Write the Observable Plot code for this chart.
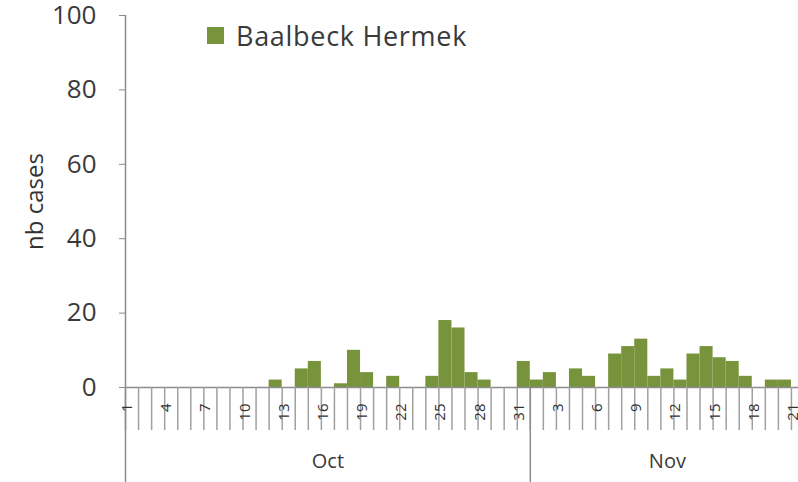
<!DOCTYPE html>
<html><head><meta charset="utf-8">
<script src="https://cdn.jsdelivr.net/npm/d3@7"></script>
<script src="https://cdn.jsdelivr.net/npm/@observablehq/plot@0.6"></script>
<style>
html,body{margin:0;padding:0;overflow:hidden;background:#fff;width:798px;height:482px}
#wrap{position:relative;width:798px;height:482px;overflow:hidden}
#wrap svg{position:absolute;left:0;top:0;max-width:none !important}
#legend{position:absolute;left:207px;top:17px;font:27px "Open Sans",sans-serif;letter-spacing:0.7px;color:#3a3a3a;display:flex;align-items:center;z-index:2}
#legend .sw{display:inline-block;width:17px;height:17px;background:#77933C;margin-right:12px}
</style></head><body>
<div id="wrap"><div id="legend"><span class="sw"></span><span>Baalbeck Hermek</span></div></div>
<script>
const months = ["Oct", "Nov"];
const octCases = [0,0,0,0,0,0,0,0,0,0,0,2,0,5,7,0,1,10,4,0,3,0,0,3,18,16,4,2,0,0,7];
const novCases = [2,4,0,5,3,0,9,11,13,3,5,2,9,11,8,7,3,0,2,2,0];
const yTicks = [0, 20, 40, 60, 80, 100];
const tickLabels = ["1","4","7","10","13","16","19","22","25","28","31","3","6","9","12","15","18","21"];

const data = [];
[octCases, novCases].forEach((vals, mi) => {
  vals.forEach((v, d) => data.push({i: data.length, day: d + 1, month: months[mi], cases: v}));
});
const n = data.length;
const tickData = tickLabels.map((t, k) => ({i: k * 3, label: t}));
const boundaries = d3.range(n + 1);
const monthEdges = [0, octCases.length, n];
const monthLabels = months.map((m, k) => ({month: m, mid: (monthEdges[k] + monthEdges[k + 1]) / 2}));

const chart = Plot.plot({
  width: 806, height: 482,
  marginLeft: 125, marginRight: 2, marginTop: 15, marginBottom: 95,
  x: {domain: [0, n], axis: null},
  y: {domain: [0, 100], axis: null},
  style: {fontFamily: "'Open Sans', sans-serif", background: "#fff", color: "#333"},
  marks: [
    Plot.rectY(data, {x1: "i", x2: d => d.i + 1, y: "cases", fill: "#77933C"}),
    Plot.ruleY([0], {stroke: "#8c8c8c", strokeWidth: 1.5}),
    Plot.ruleX([0], {stroke: "#8c8c8c", strokeWidth: 1.5}),
    Plot.axisY({ticks: yTicks, tickSize: 6, tickPadding: 23, fontSize: 26, label: null, stroke: "#8c8c8c", fill: "#3a3a3a", letterSpacing: 1}),
    Plot.axisX({ticks: boundaries, tickSize: 43, tickFormat: () => "", stroke: "#a0a0a0", strokeWidth: 1.5, label: null}),
    Plot.axisX({ticks: monthEdges, tickSize: 95, tickFormat: () => "", stroke: "#8c8c8c", strokeWidth: 1.5, label: null}),
    Plot.text(tickData, {x: d => d.i + 0.5, text: "label", frameAnchor: "bottom", rotate: -90, textAnchor: "end", dy: 16, fontSize: 15, fill: "#333"}),
    Plot.text(monthLabels, {x: "mid", text: "month", frameAnchor: "bottom", dy: 80, fontSize: 20, fill: "#3a3a3a"}),
    Plot.text(["nb cases"], {frameAnchor: "left", rotate: -90, textAnchor: "middle", dx: -90, fontSize: 24, fill: "#333"})
  ]
});
document.getElementById("wrap").prepend(chart);
</script></body></html>
